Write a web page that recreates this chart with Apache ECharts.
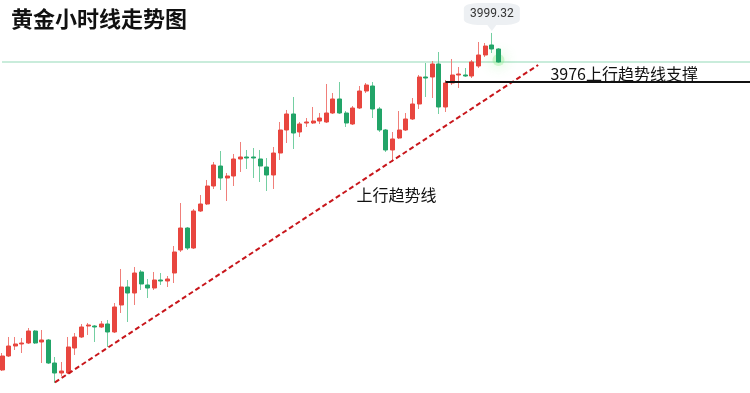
<!DOCTYPE html>
<html>
<head>
<meta charset="utf-8">
<script src="https://cdn.jsdelivr.net/npm/echarts@6/dist/echarts.min.js"></script>
<style>
html,body{margin:0;padding:0;background:#fff;}
#main{width:750px;height:393px;}
</style>
</head>
<body>
<div id="main"></div>
<script>
// ---- data ----
const titleText = '黄金小时线走势图';
const openVals  = [3838.88,3845.54,3850.30,3851.26,3851.73,3857.44,3852.21,3853.16,3842.21,3837.45,
                   3837.45,3849.35,3854.59,3859.82,3859.82,3859.35,3860.78,3856.97,3869.82,3878.39,
                   3875.53,3885.53,3879.34,3877.91,3881.72,3881.24,3885.05,3896.00,3906.47,3896.95,
                   3914.56,3917.90,3926.46,3935.98,3930.27,3931.22,3939.32,3940.27,3940.27,3939.32,
                   3935.51,3931.70,3942.17,3953.12,3960.74,3952.17,3956.45,3956.45,3957.40,3956.93,
                   3961.21,3967.88,3961.21,3955.98,3963.59,3971.68,3974.06,3963.12,3953.12,3943.60,
                   3949.31,3953.12,3958.36,3965.50,3978.35,3978.35,3984.54,3964.07,3975.49,3979.30,
                   3979.30,3978.82,3983.58,3988.82,3993.58,3991.68];
const closeVals = [3845.54,3850.30,3851.26,3851.73,3857.44,3851.73,3853.16,3842.21,3837.45,3838.40,
                   3849.83,3854.59,3859.35,3860.30,3859.35,3860.78,3856.97,3868.87,3878.39,3875.53,
                   3885.05,3879.82,3877.91,3881.72,3881.24,3882.20,3895.05,3906.47,3896.95,3914.56,
                   3917.90,3926.46,3936.46,3930.27,3931.22,3939.32,3940.27,3939.79,3939.79,3935.98,
                   3931.70,3942.17,3953.12,3960.74,3951.69,3955.98,3956.93,3957.40,3958.83,3961.21,
                   3967.88,3961.21,3956.45,3963.59,3971.68,3974.54,3963.12,3953.12,3943.60,3948.84,
                   3953.12,3958.36,3965.50,3978.35,3977.87,3984.54,3964.07,3975.49,3979.30,3979.78,
                   3978.82,3985.49,3988.82,3993.10,3991.68,3985.49];
const lowVals   = [3838.40,3845.07,3848.40,3846.97,3851.26,3851.26,3842.21,3841.74,3832.69,3836.02,
                   3836.98,3846.02,3854.11,3855.54,3852.21,3858.87,3849.83,3856.49,3866.01,3861.73,
                   3869.82,3876.96,3873.15,3876.96,3879.34,3878.39,3880.29,3895.05,3896.00,3896.48,
                   3914.09,3917.42,3925.04,3924.56,3919.32,3926.46,3933.13,3934.56,3930.27,3928.37,
                   3924.08,3925.04,3938.84,3946.93,3944.08,3949.79,3954.55,3955.98,3955.98,3956.45,
                   3960.74,3960.74,3954.55,3955.50,3963.12,3970.73,3958.83,3952.17,3942.65,3937.89,
                   3948.84,3952.64,3957.88,3963.12,3968.83,3968.35,3960.74,3961.69,3974.54,3973.11,
                   3978.35,3977.87,3982.63,3987.87,3989.77,3985.01];
const highVals  = [3846.97,3854.59,3854.59,3854.11,3858.87,3857.92,3857.92,3853.64,3845.07,3842.69,
                   3854.59,3856.49,3860.78,3861.25,3860.30,3862.20,3862.68,3870.77,3886.96,3881.72,
                   3887.91,3886.48,3882.20,3885.53,3885.05,3883.62,3897.90,3918.37,3906.95,3915.52,
                   3922.18,3929.32,3937.89,3943.12,3932.65,3941.70,3947.41,3943.60,3944.55,3943.60,
                   3939.79,3945.03,3956.93,3962.64,3968.83,3956.93,3958.83,3964.07,3961.21,3975.02,
                   3970.73,3975.97,3962.16,3964.54,3974.06,3975.49,3975.97,3964.07,3953.60,3952.17,
                   3962.16,3961.21,3968.35,3979.30,3985.01,3985.96,3990.25,3976.92,3986.92,3983.11,
                   3982.63,3986.44,3995.01,3994.53,3999.32,3992.15];
const totalSlots = 114;              // hourly slots on the x axis (incl. empty future)
const categories = Array.from({length: totalSlots}, (_, i) => 'H' + (i + 1));
const peakLabel = '3999.32';
const peakIndex = 74;
const supportValue = 3976;
const supportText = '3976上行趋势线支撑';
const trendText = '上行趋势线';
const trendStart = [8, 3833.0];
const trendEnd = [81, 3984.06];
const supportStartIndex = 67;
const supportLabelAt = [94, 3979.78];
const trendLabelAt = [59, 3922.18];
const yMin = 3827.93, yMax = 4015;

// ---- build ----
const wickData = openVals.map((o, i) => [o, closeVals[i], lowVals[i], highVals[i]]);
const bodyData = openVals.map((o, i) => [o, closeVals[i], Math.min(o, closeVals[i]), Math.max(o, closeVals[i])]);
const lastIdx = closeVals.length - 1;
const lastClose = closeVals[lastIdx];

const RED = '#e8463f', RED_W = '#f07f7a', GREEN = '#22a468', GREEN_W = '#74cfa2';
const FONT = '"Noto Sans CJK SC", "Noto Sans", sans-serif';

const chart = echarts.init(document.getElementById('main'), null, {renderer: 'canvas'});
chart.setOption({
  animation: false,
  backgroundColor: '#ffffff',
  title: {
    text: titleText, left: 6, top: 3,
    textStyle: {fontFamily: FONT, fontSize: 22, fontWeight: 'bold', color: '#111'}
  },
  grid: {left: 2, right: 0, top: 0, bottom: 0},
  xAxis: {type: 'category', data: categories, boundaryGap: false, show: false},
  yAxis: {type: 'value', min: yMin, max: yMax, show: false, splitLine: {show: false}},
  series: [
    {
      name: 'wick', type: 'candlestick', data: wickData, barWidth: 1, clip: false, z: 2,
      itemStyle: {color: RED_W, color0: GREEN_W, borderColor: RED_W, borderColor0: GREEN_W, borderWidth: 1},
      markLine: {
        silent: true, symbol: 'none', z: 1,
        lineStyle: {color: '#c9ecdb', width: 2, type: 'solid'},
        label: {show: false},
        data: [{yAxis: lastClose}]
      }
    },
    {
      name: 'body', type: 'candlestick', data: bodyData, barWidth: 4.5, clip: false, z: 3,
      itemStyle: {color: RED, color0: GREEN, borderColor: RED, borderColor0: GREEN, borderWidth: 1},
      markLine: {
        silent: true, symbol: 'none', z: 5,
        label: {show: false},
        data: [
          [{coord: trendStart, lineStyle: {color: '#c8161b', width: 2, type: [5, 3]}}, {coord: trendEnd}],
          [{coord: [supportStartIndex, supportValue], lineStyle: {color: '#111', width: 2, type: 'solid'}},
           {coord: [totalSlots - 1, supportValue]}]
        ]
      },
      markPoint: {
        silent: true, z: 6,
        data: [
          {coord: [peakIndex, highVals[peakIndex]], symbol: 'roundRect', symbolSize: [56, 22], symbolOffset: [0, -19],
           itemStyle: {color: '#edf0f3'},
           label: {show: true, position: 'inside', formatter: peakLabel, color: '#333', fontSize: 12, fontFamily: 'Roboto, sans-serif'}},
          {coord: [peakIndex, highVals[peakIndex]], symbol: 'triangle', symbolRotate: 180, symbolSize: [9, 6], symbolOffset: [0, -5],
           itemStyle: {color: '#edf0f3'}, label: {show: false}},
          {coord: supportLabelAt, symbol: 'rect', symbolSize: 1, itemStyle: {color: 'rgba(0,0,0,0)'},
           label: {show: true, position: 'inside', formatter: supportText, color: '#111', fontSize: 16, fontFamily: FONT}},
          {coord: trendLabelAt, symbol: 'rect', symbolSize: 1, itemStyle: {color: 'rgba(0,0,0,0)'},
           label: {show: true, position: 'inside', offset: [4, 0], formatter: trendText, color: '#111', fontSize: 16, fontFamily: FONT}}
        ]
      }
    },
    {
      name: 'glow', type: 'scatter', z: 1, silent: true,
      data: [[lastIdx, lastClose + 1]],
      symbolSize: 12,
      itemStyle: {color: 'rgba(140,235,140,0.45)', shadowBlur: 14, shadowColor: 'rgba(90,230,90,0.9)'}
    }
  ]
});
</script>
</body>
</html>
